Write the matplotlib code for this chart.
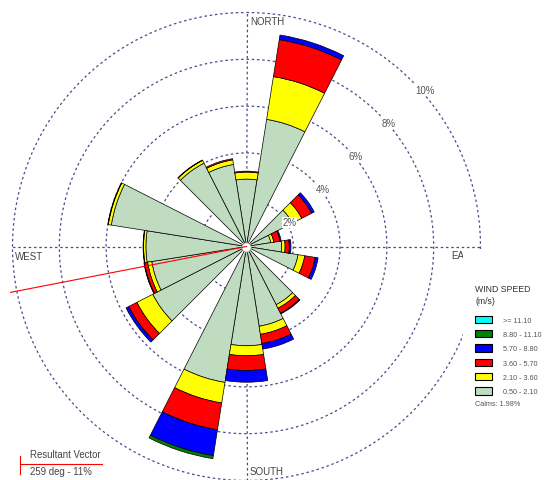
import numpy as np
import matplotlib.pyplot as plt
from matplotlib.patches import Patch, Rectangle
from matplotlib.lines import Line2D

plt.rcParams['font.family'] = ['Liberation Sans', 'DejaVu Sans']

W, H = 547, 481

# sectors are 18 degrees wide, bearing clockwise from north
sector_deg = np.arange(0, 360, 18)

speed_labels = ['0.50 - 2.10', '2.10 - 3.60', '3.60 - 5.70', '5.70 - 8.80', '8.80 - 11.10', '>= 11.10']
speed_colors = ['#c0dcc0', '#ffff00', '#ff0000', '#0000ff', '#008000', '#00ffff']

# frequency (%) of each speed class per sector
freq_050_210 = [2.88, 5.50, 0, 2.20, 1.05, 1.50, 2.23, 0, 2.79, 3.45, 4.24, 5.88, 0, 4.50, 4.10, 4.30, 5.85, 0, 4.00, 3.55]
freq_210_360 = [0.30, 1.85, 0, 0.45, 0.13, 0.15, 0.29, 0, 0.17, 0.35, 0.43, 0.89, 0, 0.76, 0.18, 0.10, 0.13, 0, 0.13, 0.20]
freq_360_570 = [0.04, 1.60, 0, 0.47, 0.27, 0.18, 0.45, 0, 0.24, 0.40, 0.63, 1.16, 0, 0.39, 0.14, 0.02, 0.02, 0, 0.02, 0.05]
freq_570_880 = [0, 0.20, 0, 0.13, 0.05, 0.07, 0.13, 0, 0.03, 0.24, 0.50, 1.12, 0, 0.13, 0.02, 0, 0, 0, 0, 0]
freq_880_1110 = [0, 0, 0, 0, 0, 0, 0, 0, 0, 0, 0, 0.13, 0, 0, 0, 0, 0, 0, 0, 0]
freq_1110_up = [0] * 20

calms = 1.98
resultant_deg = 259
resultant_pct = 11

ring_pct = [2, 4, 6, 8, 10]

freqs = np.array([freq_050_210, freq_210_360, freq_360_570, freq_570_880, freq_880_1110, freq_1110_up])
tops = np.cumsum(freqs, axis=0)
bottoms = tops - freqs

fig = plt.figure(figsize=(W / 100, H / 100), dpi=100)

# polar axes: centre at (246.5, 247.5) px, 10 % ring at 234 px
rmax = 10.3
rad_px = 234 * rmax / 10
cx, cy = 246.5, H - 247.5
ax = fig.add_axes([(cx - rad_px) / W, (cy - rad_px) / H, 2 * rad_px / W, 2 * rad_px / H], projection='polar')
ax.set_theta_zero_location('N')
ax.set_theta_direction(-1)
ax.set_ylim(0, rmax)
ax.grid(False)
ax.set_xticks([])
ax.set_yticks([])
ax.spines['polar'].set_visible(False)
ax.patch.set_alpha(0)

grid_color = '#4b4b8c'
dash = (0, (2.0, 2.2))
full = np.linspace(0, 2 * np.pi, 721)
for r in ring_pct:
    ax.plot(full, np.full_like(full, r), color=grid_color, lw=0.9, ls=dash, zorder=1)
for b in [0, 90, 180, 270]:
    ax.plot([np.deg2rad(b)] * 2, [0, ring_pct[-1]], color=grid_color, lw=0.9, ls=dash, zorder=1)

theta = np.deg2rad(sector_deg)
width = np.deg2rad(18)
for k in range(len(speed_labels)):
    m = freqs[k] > 0
    ax.bar(theta[m], freqs[k][m], width=width, bottom=bottoms[k][m], color=speed_colors[k],
           edgecolor='black', linewidth=0.5, zorder=2)

ax.scatter([0], [0], s=45, c='white', edgecolors='#999999', linewidths=0.6, zorder=4)

# resultant vector
ax.plot([np.deg2rad(resultant_deg)] * 2, [0, resultant_pct], color='#ff0000', lw=0.8, zorder=5)

for r in ring_pct:
    ax.annotate(f'{r}%', xy=(np.deg2rad(45), r), xytext=(3, -4), textcoords='offset pixels',
                ha='left', va='top', fontsize=7, color='#555555', zorder=6,
                bbox=dict(facecolor='white', edgecolor='none', pad=0.5))

lab_kw = dict(textcoords='offset pixels', fontsize=7, color='#444444', va='center', zorder=6)
ax.annotate('NORTH', xy=(0, 10), xytext=(3.5, -9), ha='left', **lab_kw)
ax.annotate('SOUTH', xy=(np.pi, 10), xytext=(3.5, 9.5), ha='left', **lab_kw)
ax.annotate('WEST', xy=(np.deg2rad(270), 10), xytext=(2, -9), ha='left', **lab_kw)
ax.annotate('EAST', xy=(np.deg2rad(90), 10), xytext=(-3.5, -9), ha='right', **lab_kw)

def fx(px):
    return px / W

def fy(py):
    return (H - py) / H

# legend panel
fig.patches.append(Rectangle((fx(463), fy(425)), fx(W - 463), (425 - 250) / H,
                             transform=fig.transFigure, facecolor='white', edgecolor='none', zorder=2))
fig.text(fx(475), fy(289.5), 'WIND SPEED', fontsize=6.3, color='#333333', va='center', zorder=5)
fig.text(fx(475), fy(301.5), '(m/s)', fontsize=6.3, color='#333333', va='center', zorder=5)
handles = [Patch(facecolor=c, edgecolor='black', linewidth=0.8) for c in speed_colors[::-1]]
leg = fig.legend(handles, speed_labels[::-1], loc='upper left', bbox_to_anchor=(fx(475), fy(316.5)),
                 fontsize=5.2, frameon=False, handlelength=2.35, handleheight=1.18, labelspacing=0.87,
                 handletextpad=1.5, borderpad=0, borderaxespad=0)
for t in leg.get_texts():
    t.set_color('#555555')
leg.set_zorder(5)
fig.text(fx(475), fy(405), f'Calms: {calms:.2f}%', fontsize=5.2, color='#555555', va='center', zorder=5)

# resultant vector key
fig.add_artist(Line2D([fx(20), fx(20)], [fy(456.7), fy(475)], color='#ff0000', lw=0.8))
fig.add_artist(Line2D([fx(20), fx(102)], [fy(465), fy(465)], color='#ff0000', lw=0.8))
fig.text(fx(30), fy(455), 'Resultant Vector', fontsize=6.9, color='#444444', va='center')
fig.text(fx(30), fy(472.5), f'{resultant_deg} deg - {resultant_pct}%', fontsize=6.9, color='#444444', va='center')

fig.savefig('out.png', dpi=100)
